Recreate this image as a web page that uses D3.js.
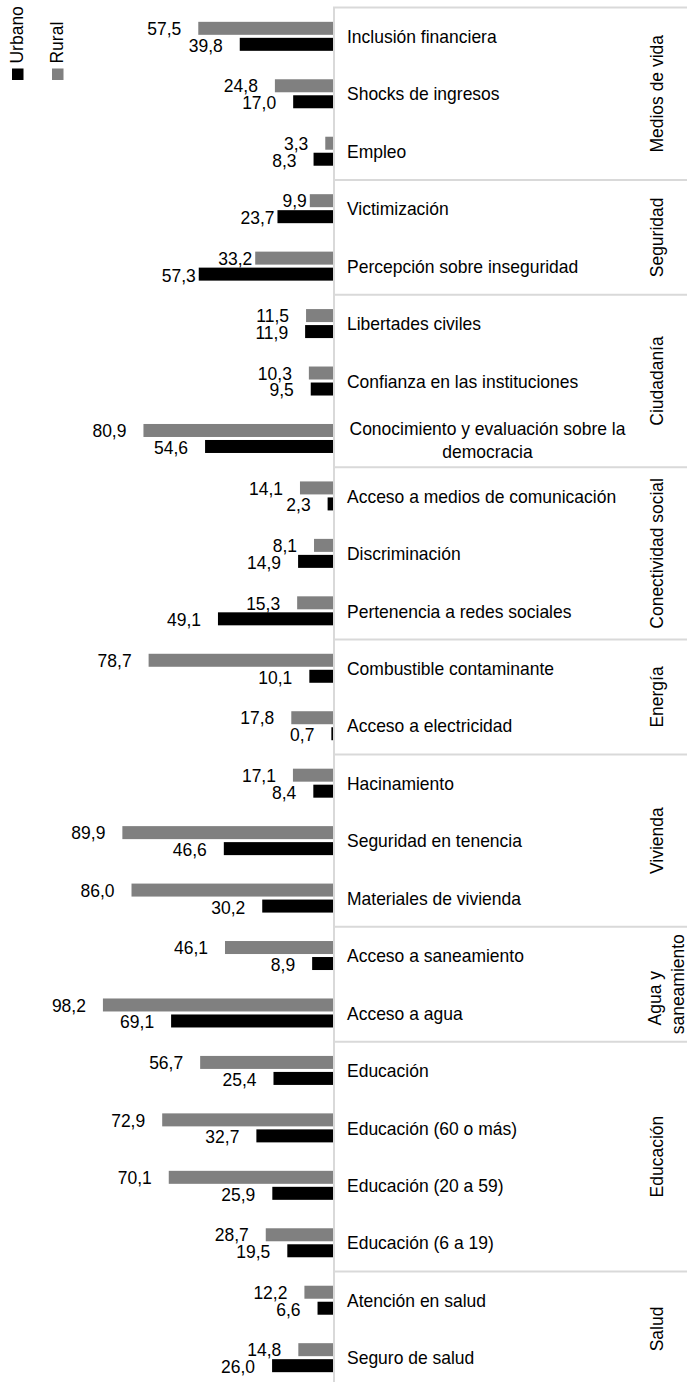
<!DOCTYPE html>
<html>
<head>
<meta charset="utf-8">
<script src="https://cdn.jsdelivr.net/npm/d3@7"></script>
<style>
  html, body { margin: 0; padding: 0; background: #fff; }
  svg { display: block; }
  text { font-family: "Liberation Sans", Arial, sans-serif; fill: #000; }
</style>
</head>
<body>
<script>
const categories = [
  "Inclusión financiera", "Shocks de ingresos", "Empleo",
  "Victimización", "Percepción sobre inseguridad",
  "Libertades civiles", "Confianza en las instituciones", "Conocimiento y evaluación sobre la\ndemocracia",
  "Acceso a medios de comunicación", "Discriminación", "Pertenencia a redes sociales",
  "Combustible contaminante", "Acceso a electricidad",
  "Hacinamiento", "Seguridad en tenencia", "Materiales de vivienda",
  "Acceso a saneamiento", "Acceso a agua",
  "Educación", "Educación (60 o más)", "Educación (20 a 59)", "Educación (6 a 19)",
  "Atención en salud", "Seguro de salud"
];
const rural = [57.5, 24.8, 3.3, 9.9, 33.2, 11.5, 10.3, 80.9, 14.1, 8.1, 15.3, 78.7, 17.8, 17.1, 89.9, 86.0, 46.1, 98.2, 56.7, 72.9, 70.1, 28.7, 12.2, 14.8];
const urbano = [39.8, 17.0, 8.3, 23.7, 57.3, 11.9, 9.5, 54.6, 2.3, 14.9, 49.1, 10.1, 0.7, 8.4, 46.6, 30.2, 8.9, 69.1, 25.4, 32.7, 25.9, 19.5, 6.6, 26.0];
const groupNames = ["Medios de vida", "Seguridad", "Ciudadanía", "Conectividad social", "Energía", "Vivienda", "Agua y\nsaneamiento", "Educación", "Salud"];
const groupSizes = [3, 2, 3, 3, 2, 3, 2, 4, 2];
const seriesNames = ["Urbano", "Rural"];
const seriesColors = ["#000000", "#808080"];

const W = 687, H = 1382;
const svg = d3.select("body").append("svg").attr("width", W).attr("height", H);
svg.append("rect").attr("width", W).attr("height", H).attr("fill", "#fff");

const axisX = 333;
const x = d3.scaleLinear().domain([0, 100]).range([axisX, 98.7]);
const y = d3.scaleBand().domain(d3.range(categories.length)).range([7.6, 1386.4]);
const bw = y.bandwidth();
const barH = 13;
const fmt = d3.formatLocale({decimal: ",", thousands: ".", grouping: [3], currency: ["", ""]}).format(".1f");
const FS = 18.6, SX = 0.94;

function txt(parent, tx, ty, str, anchor, rot, dy) {
  return parent.append("text")
    .attr("transform", `translate(${tx},${ty})` + (rot ? " rotate(-90)" : "") + ` scale(${SX},1)`)
    .attr("text-anchor", anchor || "start")
    .attr("dy", dy || 0)
    .attr("font-size", FS)
    .text(str);
}

// group boundaries
const bounds = [0];
groupSizes.forEach(s => bounds.push(bounds[bounds.length - 1] + s));
const yAt = k => k < categories.length ? y(k) : y.range()[1];
const groupOf = i => d3.bisectRight(bounds, i) - 1;
const gridColor = "#d9d9d9";
svg.selectAll("line.sep").data(bounds.slice(0, -1)).join("line")
  .attr("class", "sep")
  .attr("x1", axisX).attr("x2", W)
  .attr("y1", d => yAt(d)).attr("y2", d => yAt(d))
  .attr("stroke", gridColor).attr("stroke-width", 2);

// bars
const data = categories.map((c, i) => ({i, c, r: rural[i], u: urbano[i]}));
const g = svg.append("g");
g.selectAll("rect.rural").data(data).join("rect")
  .attr("x", d => x(d.r)).attr("width", d => axisX - x(d.r))
  .attr("y", d => y(d.i) + bw / 2 - 1.5 - barH).attr("height", barH)
  .attr("fill", seriesColors[1]);
g.selectAll("rect.urb").data(data).join("rect")
  .attr("x", d => x(d.u)).attr("width", d => axisX - x(d.u))
  .attr("y", d => y(d.i) + bw / 2 + 1.5).attr("height", barH)
  .attr("fill", seriesColors[0]);

// value labels (the "Seguridad" group labels sit right against their bars)
data.forEach(d => {
  const gap = groupNames[groupOf(d.i)] === "Seguridad" ? 3 : 17;
  txt(g, x(d.r) - gap, y(d.i) + bw / 2 - 1.5 - barH / 2, fmt(d.r), "end", false, "0.36em");
  txt(g, x(d.u) - gap, y(d.i) + bw / 2 + 1.5 + barH / 2, fmt(d.u), "end", false, "0.40em");
});

// axis line
svg.append("line").attr("x1", axisX + 1).attr("x2", axisX + 1)
  .attr("y1", y.range()[0]).attr("y2", H)
  .attr("stroke", gridColor).attr("stroke-width", 2);

// category labels
data.forEach(d => {
  const lines = d.c.split("\n");
  const cy = y(d.i) + bw / 2;
  if (lines.length === 1) {
    txt(svg, 347, cy, lines[0], "start", false, "0.36em");
  } else {
    lines.forEach((l, k) => {
      txt(svg, 487.5, cy + 1.5 + (k - (lines.length - 1) / 2) * 23, l, "middle", false, "0.36em");
    });
  }
});

// group labels
groupNames.forEach((name, gi) => {
  const cy = (yAt(bounds[gi]) + yAt(bounds[gi + 1])) / 2;
  const lines = name.split("\n");
  if (lines.length === 1) {
    txt(svg, 663, cy, name, "middle", true);
  } else {
    txt(svg, 661, cy + 14, lines[0], "middle", true);
    txt(svg, 684, cy, lines[1], "middle", true);
  }
});

// legend
const leg = svg.append("g");
[[0, 12, 23], [1, 52, 63]].forEach(([k, sx, tx]) => {
  leg.append("rect").attr("x", sx).attr("y", 68.5).attr("width", 11.5).attr("height", 11.5)
    .attr("fill", seriesColors[k]);
  txt(leg, tx, 63.5, seriesNames[k], "start", true);
});
</script>
</body>
</html>
